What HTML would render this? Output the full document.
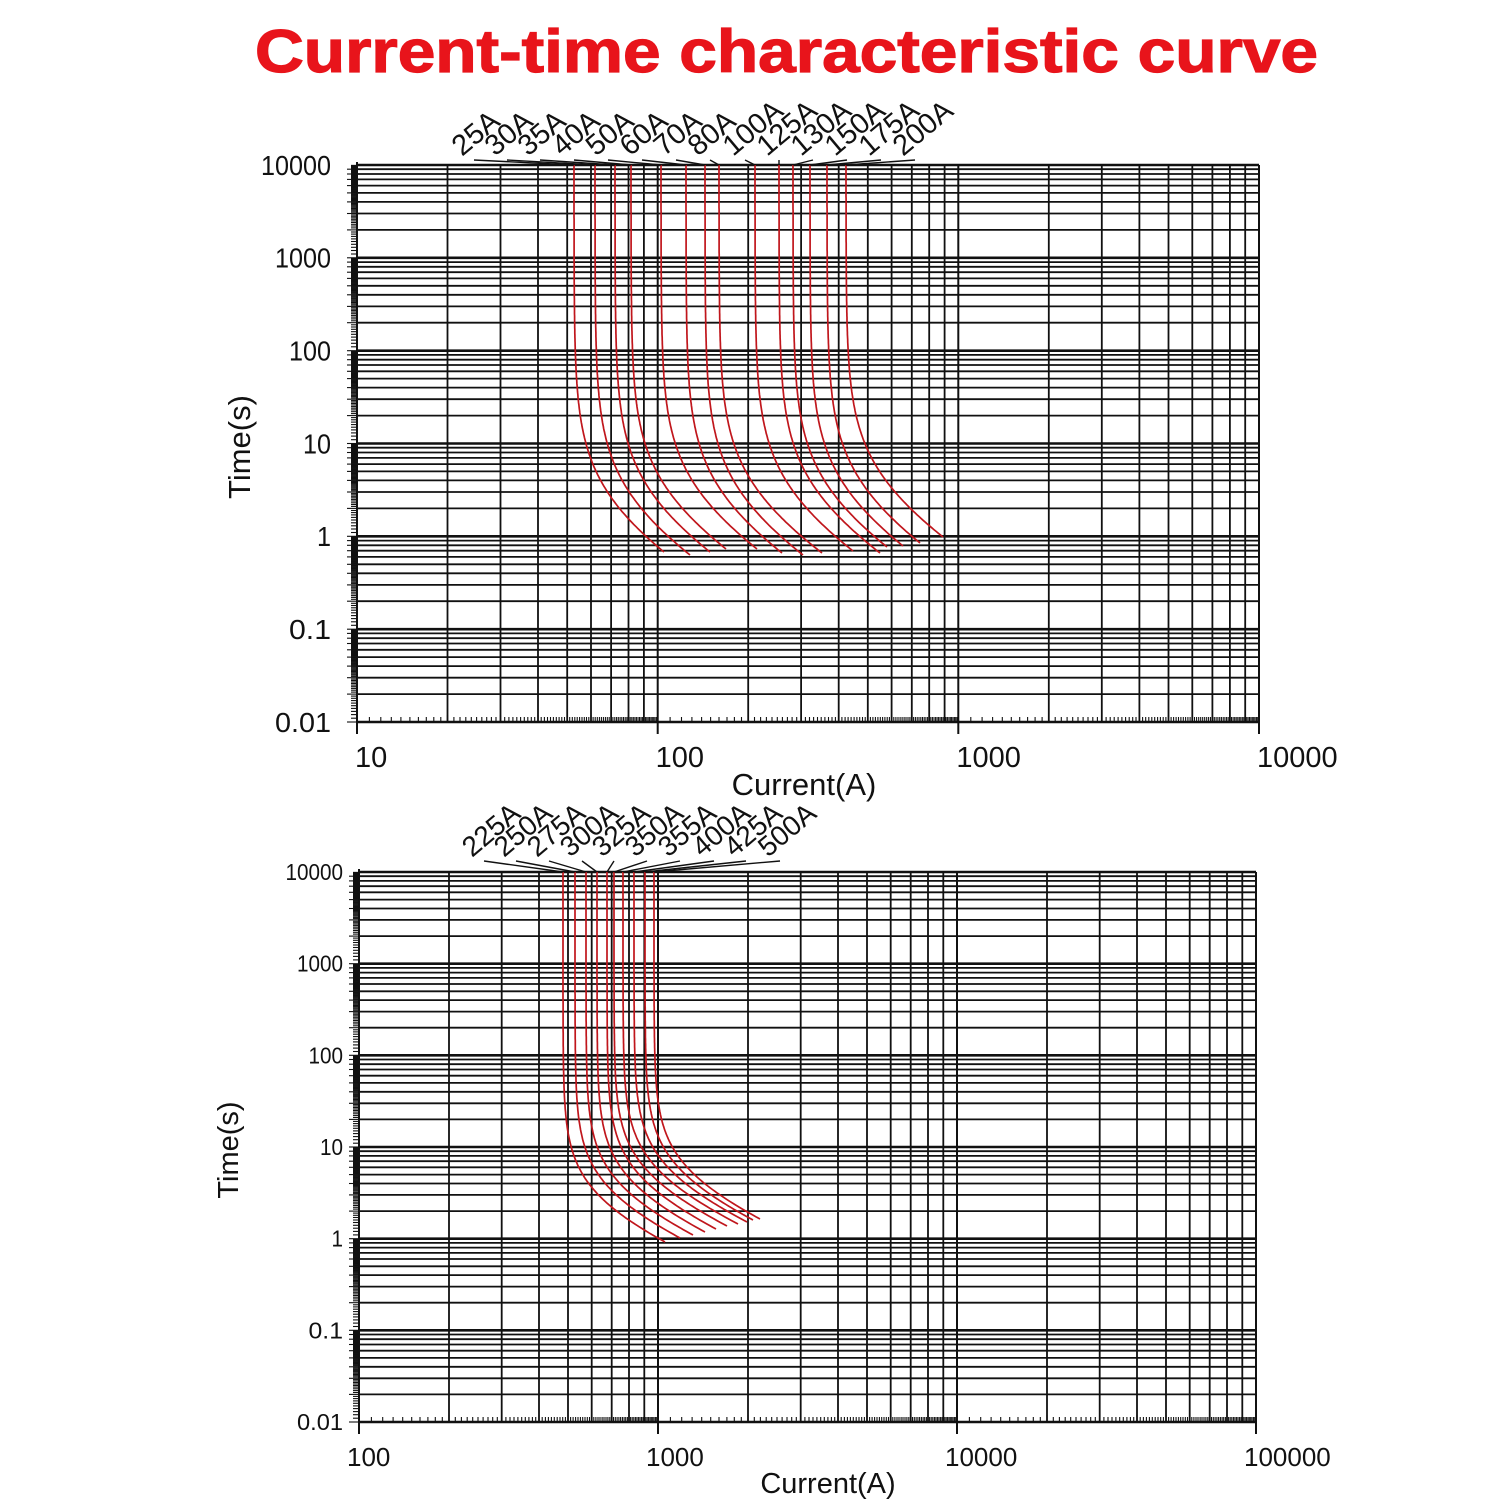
<!DOCTYPE html>
<html><head><meta charset="utf-8"><style>
html,body{margin:0;padding:0;background:#fff;}
svg{display:block;}
text{font-family:"Liberation Sans",sans-serif;}
</style></head><body>
<svg id="s" width="1500" height="1500" viewBox="0 0 1500 1500" xmlns="http://www.w3.org/2000/svg">
<rect width="1500" height="1500" fill="#fff"/>
<text x="255" y="72" font-size="60" font-weight="bold" fill="#e8141b" textLength="1063" lengthAdjust="spacingAndGlyphs" stroke="#e8141b" stroke-width="1.2" style="font-family:'Liberation Sans',sans-serif">Current-time characteristic curve</text>
<g id="g"></g>
</svg>
<script>
var g=document.getElementById('g');var out='';
function L(x1,y1,x2,y2,w,c){out+='<line x1="'+x1.toFixed(1)+'" y1="'+y1.toFixed(1)+'" x2="'+x2.toFixed(1)+'" y2="'+y2.toFixed(1)+'" stroke="'+(c||'#111')+'" stroke-width="'+(w||1.8)+'"/>';}
function T(x,y,s,fs,anchor,extra){out+='<text x="'+x+'" y="'+y+'" font-size="'+fs+'" text-anchor="'+(anchor||'start')+'" fill="#111" '+(extra||'')+'>'+s+'</text>';}
function chart(c){
  var xd=(c.x1-c.x0)/c.nx, yd=(c.y1-c.y0)/6;
  function X(d){return c.x0+d*xd;} function Y(d){return c.y1-d*yd;}
  for(var d=0;d<c.nx;d++){for(var k=1;k<=9;k++){var x=X(d+Math.log10(k));L(x,c.y0,x,c.y1,k==1?2:1.8);}}
  L(c.x1,c.y0,c.x1,c.y1,2);
  for(var d=0;d<6;d++){for(var k=1;k<=9;k++){var y=Y(d+Math.log10(k));if(k==1&&d==0)continue;L(c.x0,y,c.x1,y,k==1?2.6:1.8);}}
  L(c.x0,c.y0,c.x1,c.y0,2.6);
  L(c.x0,c.y0-3,c.x0,c.y1+10,2);L(c.x0,c.y1,c.x1,c.y1,2.4);
  for(var d=0;d<6;d++){for(var k=1;k<=9;k++){for(var m=0;m<10;m++){var y=Y(d+Math.log10(k+m/10));L(c.x0-(m==0?10:6),y,c.x0,y,1.1);}}}
  for(var d=0;d<c.nx;d++){for(var k=1;k<=9;k++){for(var m=0;m<10;m++){var x=X(d+Math.log10(k+m/10));L(x,c.y1,x,c.y1-(m==0?7:5),1.1);}}
   L(X(d),c.y1,X(d),c.y1+12,2);}
  L(c.x1,c.y1,c.x1,c.y1+12,2);
  var yl=['0.01','0.1','1','10','100','1000','10000'];
  for(var d=0;d<=6;d++)T(c.ylx,(Y(d)+c.yfs*0.35).toFixed(1),yl[d],c.yfs,'end','textLength="'+(yl[d].length*c.yfs*0.5)+'" lengthAdjust="spacingAndGlyphs"');
  for(var d=0;d<=c.nx;d++){var s=c.xl[d];T(X(d)+c.xlo,c.xly,s,c.xfs,'start');}
  T(c.cx,c.cy,'Current(A)',c.afs,'middle');
  T(0,0,'Time(s)',c.afs,'middle','transform="translate('+c.tx+','+c.ty+') rotate(-90)"');
  c.curves.forEach(function(cv,i){
    var xa=cv[0],xe=cv[1],ye=cv[2];
    var te=Math.pow(10,(c.y1-ye)/yd-2);
    var R=Math.pow(10,(xe-xa)/xd);var A=(R*R-1)*Math.pow(te,c.m);
    var p='M'+xa+' '+c.y0;
    for(var j=0;j<=200;j++){var lt=4-(4-Math.log10(te))*j/200;var t=Math.pow(10,lt);
      var r=Math.sqrt(1+A/Math.pow(t,c.m));var x=xa+xd*Math.log10(r);var y=c.y1-(lt+2)*yd;p+=' L'+x.toFixed(1)+' '+y.toFixed(1);}
    out+='<path d="'+p+'" fill="none" stroke="#c0161c" stroke-width="1.7"/>';
    var lx=c.lab[i];
    L(lx+8,c.ly+3,xa,c.y0,1.4);
    T(0,0,c.names[i],c.lfs,'start','transform="translate('+(lx-4)+','+c.ly+') rotate(-40)"');
  });
}
chart({x0:357,x1:1259,y0:165,y1:722,nx:3,ylx:331,yfs:28,xl:['10','100','1000','10000'],xlo:-2,xly:767,xfs:29,cx:804,cy:795,afs:31,tx:250,ty:447,m:1,lfs:29,ly:157,
 names:['25A','30A','35A','40A','50A','60A','70A','80A','100A','125A','130A','150A','175A','200A'],
 lab:[466,499,532,566,600,634,668,702,737,771,805,839,873,907],
 curves:[[574,664,552],[595,690,555],[615,710,552],[631,726,549],[661,757,549],[686,782,553],[705,803,555],[719,822,553],[755,853,551],[779,880,553],[793,887,547],[810,903,546],[827,920,543],[846,943,537]]});
chart({x0:359,x1:1256,y0:872,y1:1422,nx:3,ylx:343,yfs:23,xl:['100','1000','10000','100000'],xlo:-12,xly:1466,xfs:26,cx:828,cy:1493,afs:29,tx:238,ty:1150,m:1.4,lfs:28,ly:858,
 names:['225A','250A','275A','300A','325A','350A','355A','400A','425A','500A'],
 lab:[476,508,541,574,606,639,672,706,738,772],
 curves:[[563,665,1242],[575,680,1238],[586,693,1235],[597,705,1232],[607,716,1229],[614,727,1226],[623,738,1224],[634,747,1222],[645,753,1220],[654,760,1219]]});
g.innerHTML=out;
</script>
</body></html>
